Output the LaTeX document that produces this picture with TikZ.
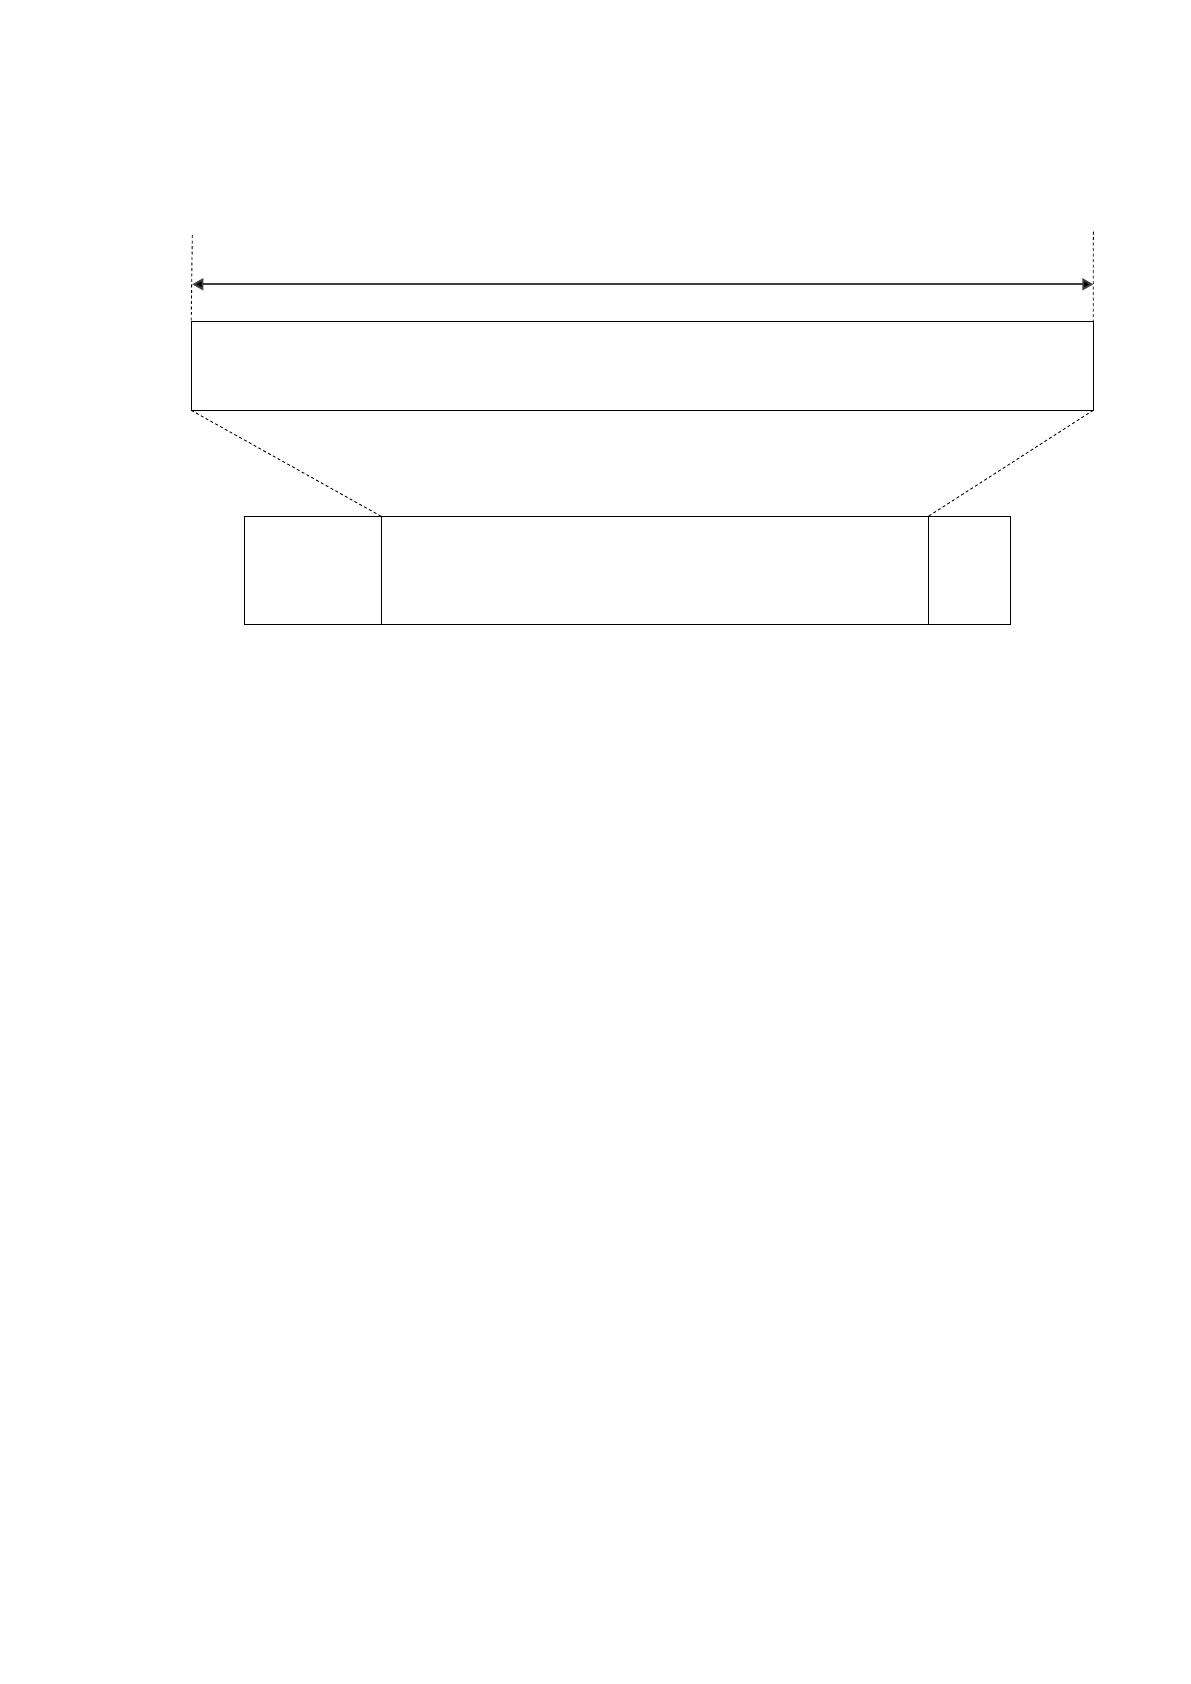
\documentclass[tikz,border=0pt]{standalone}
\usetikzlibrary{arrows.meta}
\begin{document}
\begin{tikzpicture}[x=1pt,y=-1pt,
  box/.style={draw=black,line width=1.1pt,inner sep=0pt,outer sep=0pt,fill=white},
  guide/.style={draw=black,line width=0.9pt,dash pattern=on 3pt off 2.5pt},
  span/.style={draw=black!75,line width=1.8pt,{Triangle[length=11pt,width=12pt,fill=black]}-{Triangle[length=11pt,width=12pt,fill=black]}}]
\useasboundingbox (0,0) rectangle (1191,1684);
\node[box,minimum width=902pt,minimum height=89pt] (top) at (642.2,365.8) {};
\node[box,minimum width=137pt,minimum height=107.7pt] (left) at (312.8,570.2) {};
\node[box,minimum width=547pt,minimum height=107.7pt] (mid) at (654.8,570.2) {};
\node[box,minimum width=82.4pt,minimum height=107.7pt] (right) at (969.5,570.2) {};
\coordinate (lt) at (192.3,235);
\coordinate (rt) at (1093.3,231.5);
\coordinate (la) at (192.3,284.3);
\coordinate (ra) at (1093.3,284.3);
\draw[guide] (lt) -- (top.north west);
\draw[guide] (rt) -- (top.north east);
\draw[span] (la) -- (ra);
\draw[guide] (top.south west) -- (mid.north west);
\draw[guide] (top.south east) -- (mid.north east);
\end{tikzpicture}
\end{document}
